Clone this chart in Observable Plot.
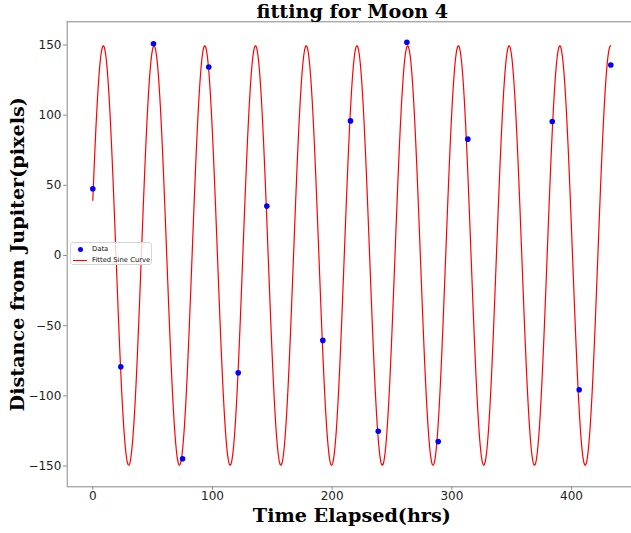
<!DOCTYPE html>
<html>
<head>
<meta charset="utf-8">
<script src="https://cdn.jsdelivr.net/npm/d3@7"></script>
<script src="https://cdn.jsdelivr.net/npm/@observablehq/plot@0.6"></script>
<style>
  html, body { margin: 0; padding: 0; background: #fff; }
  #wrap { position: relative; width: 631px; height: 533px; overflow: hidden; }
  #legend {
    position: absolute; left: 70px; top: 242px; width: 82px; height: 23px;
    border: 1px solid #d6d6d6; border-radius: 3px; background: rgba(255,255,255,0.8);
    font-family: "DejaVu Sans", sans-serif; font-size: 6.8px; color: #111; box-sizing: border-box;
  }
  #legend .row { position: absolute; left: 0; height: 9px; line-height: 9px; white-space: nowrap; }
  #legend .dot { position: absolute; left: 7px; top: 2px; width: 5px; height: 5px; border-radius: 50%; background: #0000ff; }
  #legend .line { position: absolute; left: 2px; top: 4px; width: 14px; height: 0; border-top: 1.2px solid #ff0000; }
  #legend .lab { position: absolute; left: 21px; top: 0; }
</style>
</head>
<body>
<div id="wrap">
  <div id="chart"></div>
  <div id="legend"></div>
</div>
<script>
// ---- data ----
const timeHrs = [0, 23.4, 50.7, 75.0, 96.9, 121.5, 145.4, 192.2, 215.3, 238.5, 262.4, 288.6, 313.3, 383.9, 406.4, 432.8];
const distancePx = [47.6, -79.3, 150.9, -144.8, 134.3, -83.6, 35.2, -60.5, 95.9, -125.2, 151.9, -132.6, 82.9, 95.5, -95.7, 135.7];

// fitted sine parameters (as drawn in the reference)
const fitAmplitude = 149.4;
const fitPeriod = 42.38;
const fitPeakTime = 8.8;
const fitOffset = 0;

const xTicks = [0, 100, 200, 300, 400];
const yTicks = [-150, -100, -50, 0, 50, 100, 150];
const xDomain = [-21.39, 450.1];
const yDomain = [-164.8, 166.5];

const titleText = "fitting for Moon 4";
const xLabel = "Time Elapsed(hrs)";
const yLabel = "Distance from Jupiter(pixels)";
const legendLabels = ["Data", "Fitted Sine Curve"];

// ---- build tables ----
const points = timeHrs.map((t, i) => ({t, d: distancePx[i]}));
const tMax = d3.max(timeHrs);
const curve = d3.range(0, tMax + 0.001, tMax / 2000).map(t => ({
  t, d: fitOffset + fitAmplitude * Math.cos(2 * Math.PI * (t - fitPeakTime) / fitPeriod)
}));

const serif = "DejaVu Serif";
const labelSize = 19.2;
const chart = Plot.plot({
  width: 631,
  height: 533,
  marginLeft: 66.7,
  marginRight: 0,
  marginTop: 21.3,
  marginBottom: 46.7,
  style: {background: "#fff", color: "#222", fontFamily: "DejaVu Sans", fontSize: "12px", overflow: "visible"},
  x: {domain: xDomain},
  y: {domain: yDomain},
  marks: [
    Plot.axisX({ticks: xTicks, tickSize: 3.5, tickPadding: 1.5, label: null, stroke: "#888", fontSize: 12}),
    Plot.axisY({ticks: yTicks, tickSize: 3.5, tickPadding: 2.3, label: null, stroke: "#888", fontSize: 12}),
    Plot.ruleX([xDomain[0]], {stroke: "#888", strokeWidth: 1}),
    Plot.ruleY([yDomain[0], yDomain[1]], {stroke: "#888", strokeWidth: 1}),
    Plot.line(curve, {x: "t", y: "d", stroke: "#ff0000", strokeWidth: 1.2}),
    Plot.dot(points, {x: "t", y: "d", r: 2.8, fill: "#0000ff", stroke: "none"}),
    Plot.text([titleText], {text: d => d, frameAnchor: "top", textAnchor: "middle", lineAnchor: "bottom", dy: -3.6, dx: 3,
      fontFamily: serif, fontWeight: "bold", fontSize: labelSize, fill: "#000"}),
    Plot.text([xLabel], {text: d => d, frameAnchor: "bottom", textAnchor: "middle", lineAnchor: "bottom", dy: 34.7, dx: 2.5,
      fontFamily: serif, fontWeight: "bold", fontSize: labelSize, fill: "#000"}),
    Plot.text([yLabel], {text: d => d, frameAnchor: "left", textAnchor: "middle", lineAnchor: "bottom", rotate: -90, dx: -43.5,
      fontFamily: serif, fontWeight: "bold", fontSize: labelSize, fill: "#000"})
  ]
});
document.getElementById("chart").appendChild(chart);

// legend
const legend = document.getElementById("legend");
legendLabels.forEach((lab, i) => {
  const row = document.createElement("div");
  row.className = "row";
  row.style.top = (1.5 + i * 11) + "px";
  row.style.width = "100%";
  const sw = document.createElement("span");
  sw.className = i === 0 ? "dot" : "line";
  const tx = document.createElement("span");
  tx.className = "lab";
  tx.textContent = lab;
  row.appendChild(sw);
  row.appendChild(tx);
  legend.appendChild(row);
});
</script>
</body>
</html>
